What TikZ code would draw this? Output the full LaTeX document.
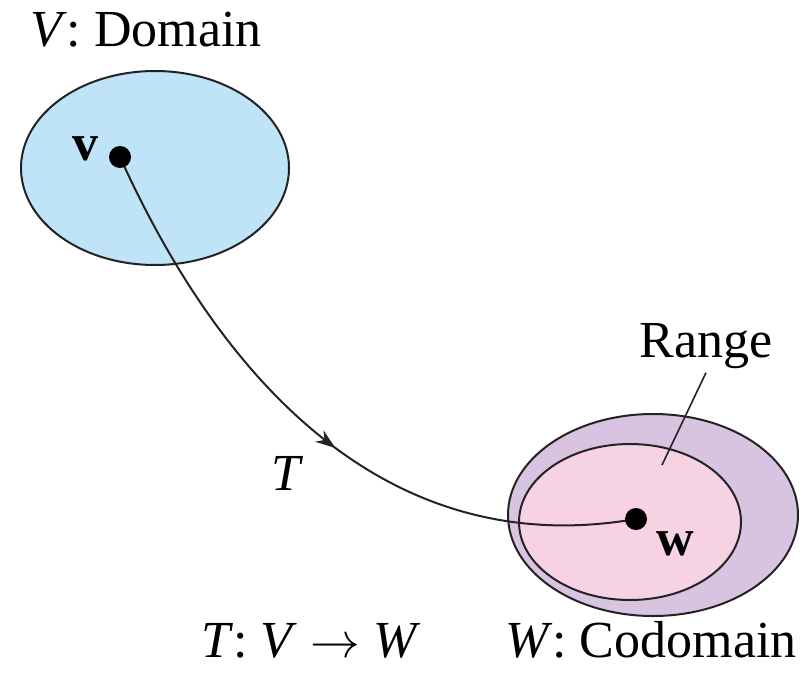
\documentclass[tikz,border=0pt]{standalone}
\usepackage{fontspec}
\setmainfont{Liberation Serif}
\usetikzlibrary{arrows.meta,decorations.markings}

\definecolor{domainblue}{RGB}{191,228,247}
\definecolor{codompurple}{RGB}{216,196,224}
\definecolor{rangepink}{RGB}{247,210,227}
\definecolor{inkgray}{RGB}{35,35,35}

\begin{document}
\begin{tikzpicture}[x=0.5pt, y=-0.5pt,
    lbl/.style={font=\fontsize{26}{30}\selectfont, anchor=base, inner sep=2pt},
    dot/.style={circle, fill=black, inner sep=0pt, minimum size=11pt},
    setline/.style={draw=inkgray, line width=1pt}]
  % Bounding box of the reference picture (812 x 674 px)
  \useasboundingbox (0,0) rectangle (812,674);
  % Domain V
  \draw[setline, fill=domainblue] (155,168) ellipse [x radius=134, y radius=97];
  % Codomain W and the range inside it
  \draw[setline, fill=codompurple] (653,515) ellipse [x radius=145, y radius=101];
  \draw[setline, fill=rangepink] (630,522) ellipse [x radius=111, y radius=78];
  % The vector v and its image w
  \coordinate (v) at (120,157);
  \coordinate (w) at (636,519);
  % Mapping T, arrow about half way along
  \draw[line width=1pt, draw=inkgray,
        decoration={markings, mark=at position 0.535 with {\arrow{Stealth[length=10pt, width=7pt]}}},
        postaction={decorate}]
    (v) .. controls (230,400) and (400,560) .. (w);
  \node[dot] (vdot) at (v) {};
  \node[dot] (wdot) at (w) {};
  \node[lbl] (vlbl) at (85,160) {\textbf{v}};
  \node[lbl] (wlbl) at (675,555) {\textbf{w}};
  \node[lbl] (tlbl) at (287,490) {\textit{T}};
  % Range label with its leader line
  \node[lbl] (range) at (706,357) {Range};
  \coordinate (rangetip) at (662,465);
  \draw[line width=0.8pt, draw=inkgray] (range.south) -- (rangetip);
  % Captions
  \node[lbl] (domain) at (146,47) {\textit{V}: Domain};
  \node[lbl] (mapping) at (311,657) {\textit{T}: \textit{V} $\rightarrow$ \textit{W}};
  \node[lbl] (codomain) at (651,657) {\textit{W}: Codomain};
\end{tikzpicture}
\end{document}
